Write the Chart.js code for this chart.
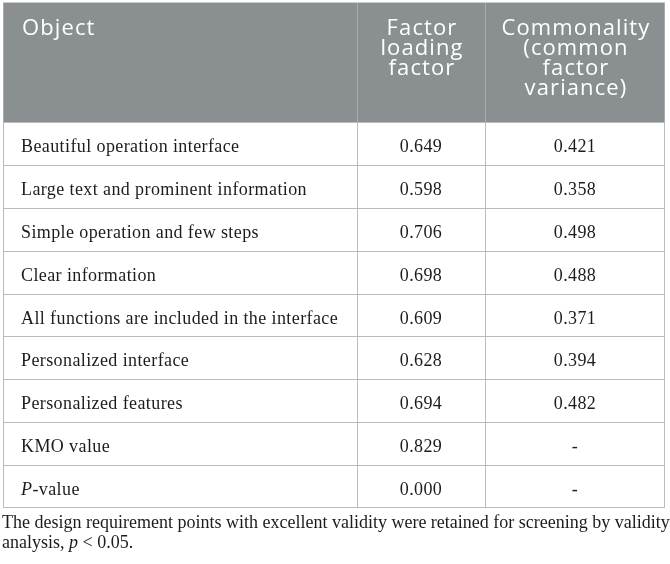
<!DOCTYPE html>
<html><head><meta charset="utf-8">
<script src="https://cdn.jsdelivr.net/npm/chart.js@4.4.1/dist/chart.umd.min.js"></script>
<style>html,body{margin:0;padding:0;background:#fff}canvas{display:block}</style>
</head><body>
<canvas id="c" width="670" height="564"></canvas>
<script>
// ---- data ----
const objects = [
  "Beautiful operation interface",
  "Large text and prominent information",
  "Simple operation and few steps",
  "Clear information",
  "All functions are included in the interface",
  "Personalized interface",
  "Personalized features",
  "KMO value",
  "_P_-value"
];
const factorLoading = [0.649, 0.598, 0.706, 0.698, 0.609, 0.628, 0.694, 0.829, 0.000];
const commonality   = [0.421, 0.358, 0.498, 0.488, 0.371, 0.394, 0.482, null, null];
const headerObject      = ["Object"];
const headerLoading     = ["Factor", "loading", "factor"];
const headerCommonality = ["Commonality", "(common", "factor", "variance)"];
const captionLines = [
  "The design requirement points with excellent validity were retained for screening by validity",
  "analysis, _p_ < 0.05."
];

// ---- layout / style ----
const HEADER_TOP = 3;
const COL_EDGES = [0, 354 / 662, 482 / 662, 1];
const HEADER_BG = '#8a8f92';
const LINE = '#b9bcbd';
const HEADER_LINE = '#a9adb0';
const TEXT = '#1c1c1c';
const SERIF = '"Liberation Serif", "Times New Roman", serif';
const SANS = '"Open Sans", "Noto Sans", sans-serif';

function drawRuns(ctx, text, x, y, size, align) {
  const parts = text.split('_');
  const fonts = parts.map((p, i) => (i % 2 ? 'italic ' : '') + size + 'px ' + SERIF);
  let total = 0;
  parts.forEach((p, i) => { ctx.font = fonts[i]; total += ctx.measureText(p).width; });
  let cx = align === 'center' ? x - total / 2 : x;
  ctx.textAlign = 'left';
  parts.forEach((p, i) => {
    ctx.font = fonts[i];
    ctx.fillText(p, cx, y);
    cx += ctx.measureText(p).width;
  });
}

const tablePlugin = {
  id: 'table',
  beforeDraw(chart) {
    const { ctx, chartArea: a } = chart;
    ctx.save();
    ctx.fillStyle = '#fff';
    ctx.fillRect(0, 0, chart.width, chart.height);
    ctx.fillStyle = HEADER_BG;
    ctx.fillRect(a.left, HEADER_TOP, a.right - a.left, a.top - HEADER_TOP);
    ctx.restore();
  },
  afterDraw(chart) {
    const { ctx, chartArea: a, scales: { y } } = chart;
    const w = a.right - a.left;
    const colX = COL_EDGES.map(f => a.left + f * w);
    const band = Math.abs(y.getPixelForValue(1) - y.getPixelForValue(0));
    ctx.save();
    ctx.lineWidth = 1;
    // horizontal row lines
    ctx.strokeStyle = LINE;
    for (let i = 0; i < objects.length; i++) {
      const yy = Math.round(y.getPixelForValue(i) - band / 2) + 0.5;
      ctx.beginPath(); ctx.moveTo(a.left, yy); ctx.lineTo(a.right, yy); ctx.stroke();
    }
    const yb = Math.round(y.getPixelForValue(objects.length - 1) + band / 2) - 0.5;
    ctx.beginPath(); ctx.moveTo(a.left, yb); ctx.lineTo(a.right, yb); ctx.stroke();
    // top border
    ctx.strokeStyle = '#c8cbcc';
    ctx.beginPath(); ctx.moveTo(a.left, HEADER_TOP - 0.5); ctx.lineTo(a.right, HEADER_TOP - 0.5); ctx.stroke();
    // vertical lines
    colX.forEach((x, i) => {
      const xx = Math.round(x) + (i === colX.length - 1 ? -0.5 : 0.5);
      ctx.strokeStyle = HEADER_LINE;
      ctx.beginPath(); ctx.moveTo(xx, HEADER_TOP); ctx.lineTo(xx, a.top); ctx.stroke();
      ctx.strokeStyle = LINE;
      ctx.beginPath(); ctx.moveTo(xx, a.top); ctx.lineTo(xx, yb + 0.5); ctx.stroke();
    });

    // header text
    ctx.fillStyle = '#ffffff';
    ctx.font = '400 22px ' + SANS;
    ctx.letterSpacing = '1.1px';
    ctx.textBaseline = 'alphabetic';
    const headers = [headerObject, headerLoading, headerCommonality];
    headers.forEach((lines, c) => {
      lines.forEach((t, k) => {
        const by = 35 + k * 20;
        if (c === 0) {
          ctx.textAlign = 'left';
          ctx.fillText(t, colX[0] + 19, by);
        } else {
          ctx.textAlign = 'center';
          ctx.fillText(t, (colX[c] + colX[c + 1]) / 2 + 1, by);
        }
      });
    });

    // body text
    ctx.fillStyle = TEXT;
    ctx.letterSpacing = '0.4px';
    objects.forEach((label, i) => {
      const cy = y.getPixelForValue(i) + 8.5;
      drawRuns(ctx, label, colX[0] + 18, cy, 18, 'left');
      const v1 = factorLoading[i];
      drawRuns(ctx, v1 == null ? '-' : v1.toFixed(3), (colX[1] + colX[2]) / 2, cy, 18, 'center');
      const v2 = commonality[i];
      drawRuns(ctx, v2 == null ? '-' : v2.toFixed(3), (colX[2] + colX[3]) / 2, cy, 18, 'center');
    });

    // caption
    ctx.letterSpacing = '0px';
    captionLines.forEach((t, k) => {
      drawRuns(ctx, t, 2, yb + 20 + k * 20.5, 18, 'left');
    });
    ctx.restore();
  }
};

new Chart(document.getElementById('c'), {
  type: 'bar',
  data: {
    labels: objects,
    datasets: [
      { label: 'Factor loading factor', data: factorLoading, backgroundColor: 'rgba(0,0,0,0)', borderWidth: 0 },
      { label: 'Commonality', data: commonality, backgroundColor: 'rgba(0,0,0,0)', borderWidth: 0 }
    ]
  },
  options: {
    indexAxis: 'y',
    responsive: false,
    animation: false,
    events: [],
    layout: { padding: { left: 3, right: 5, top: 122, bottom: 56 } },
    plugins: { legend: { display: false }, tooltip: { enabled: false }, title: { display: false } },
    scales: {
      x: { display: false, min: 0, max: 1 },
      y: { display: false }
    }
  },
  plugins: [tablePlugin]
});
</script>
</body></html>
